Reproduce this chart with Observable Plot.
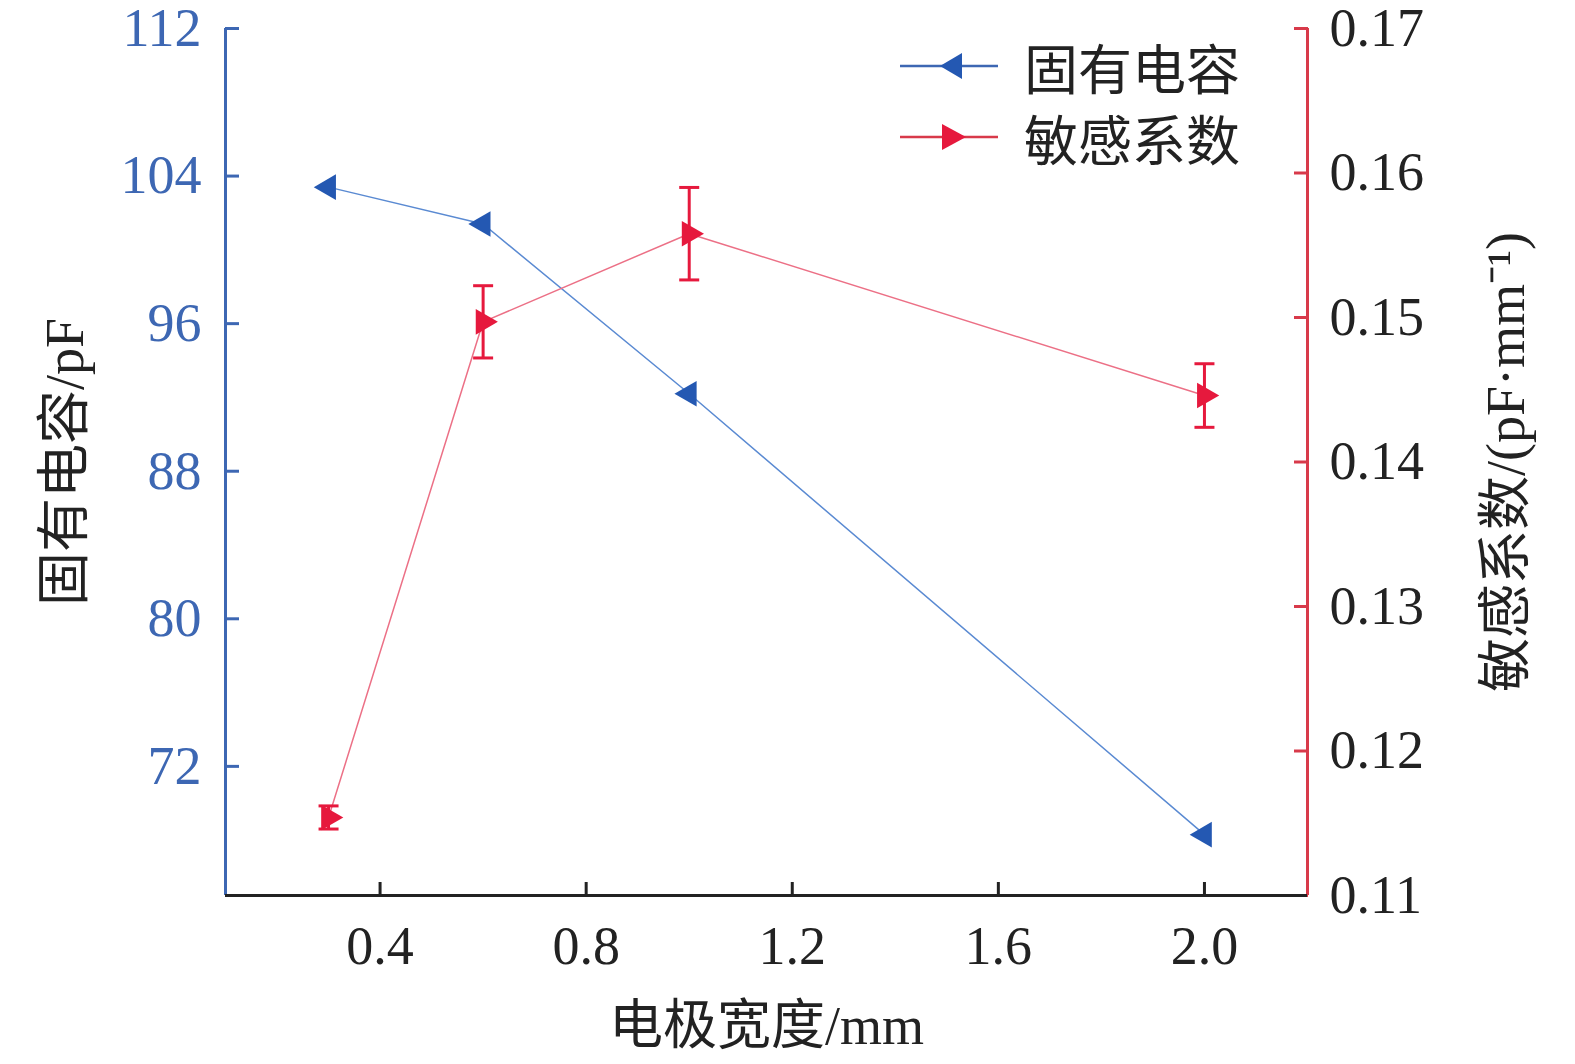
<!DOCTYPE html>
<html><head><meta charset="utf-8">
<script src="https://cdn.jsdelivr.net/npm/d3@7"></script>
<script src="https://cdn.jsdelivr.net/npm/@observablehq/plot@0.6"></script>
<style>
html,body{margin:0;padding:0;background:#fff;overflow:hidden;}
#wrap{position:relative;width:1575px;height:1064px;overflow:hidden;}
#wrap > svg{display:block;max-width:none !important;}
.lg{position:absolute;left:898px;height:71px;display:flex;align-items:center;font-family:"Liberation Serif","Noto Sans CJK SC",serif;font-size:54px;color:#222;}
.lg svg{margin-right:24px;}
</style></head><body><div id="wrap"></div>
<script>
const widths = [0.3, 0.6, 1.0, 2.0];
const capacitance = [103.4, 101.4, 92.2, 68.3];
const sensitivity = [0.1154, 0.1497, 0.1558, 0.1446];
const sensitivityErr = [0.0008, 0.0025, 0.0032, 0.0022];
const xTicks = [0.4, 0.8, 1.2, 1.6, 2.0];
const leftTicks = [72, 80, 88, 96, 104, 112];
const rightTicks = [0.11, 0.12, 0.13, 0.14, 0.15, 0.16, 0.17];
const xDomain = [0.1, 2.2];
const leftDomain = [65, 112];
const rightDomain = [0.11, 0.17];
const seriesNames = ["固有电容", "敏感系数"];
const xLabel = "电极宽度/mm";
const leftLabel = "固有电容/pF";
const rightLabel = "敏感系数/(pF·mm⁻¹)";

const BLUE = "#2458b2", BLUE_AX = "#3d67b3", BLUE_LN = "#5a8ad2";
const RED = "#e6193d", RED_AX = "#d83a4a", RED_LN = "#ec7086";
const INK = "#222";

const r2l = v => leftDomain[0] + (v - rightDomain[0]) / (rightDomain[1] - rightDomain[0]) * (leftDomain[1] - leftDomain[0]);
const l2r = v => rightDomain[0] + (v - leftDomain[0]) / (leftDomain[1] - leftDomain[0]) * (rightDomain[1] - rightDomain[0]);

const capData = widths.map((x, i) => ({x, y: capacitance[i]}));
const sensData = widths.map((x, i) => ({
  x, y: r2l(sensitivity[i]),
  lo: r2l(sensitivity[i] - sensitivityErr[i]),
  hi: r2l(sensitivity[i] + sensitivityErr[i])
}));

const capSymbol = {draw(ctx, size) { const w = Math.sqrt(size / Math.PI); ctx.moveTo(-w, 0); ctx.lineTo(w, 0); }};
const FONT = "'Liberation Serif', 'Noto Sans CJK SC', serif";

const chart = Plot.plot({
  width: 1575, height: 1064,
  marginTop: 28, marginRight: 268, marginBottom: 169, marginLeft: 225,
  style: {fontFamily: FONT, fontSize: "54px", background: "#fff", overflow: "visible", maxWidth: "none"},
  x: {domain: xDomain},
  y: {domain: leftDomain},
  marks: [
    Plot.axisX(xTicks, {anchor: "bottom", tickSize: -13, tickPadding: 43, strokeWidth: 3, tickFormat: d3.format(".1f"), color: INK, fontSize: 54, label: null}),
    Plot.axisY(leftTicks, {anchor: "left", tickSize: -14, tickPadding: 38, strokeWidth: 3, color: BLUE_AX, fontSize: 54, label: null}),
    Plot.axisY(rightTicks.map(r2l), {anchor: "right", tickSize: -14, tickPadding: 36, strokeWidth: 3, stroke: RED_AX, fill: INK, fontSize: 54, tickFormat: d => d3.format(".2f")(l2r(d)), label: null}),
    Plot.ruleX([xDomain[0]], {stroke: BLUE_AX, strokeWidth: 3}),
    Plot.ruleX([xDomain[1]], {stroke: RED_AX, strokeWidth: 3}),
    Plot.ruleY([leftDomain[0]], {stroke: INK, strokeWidth: 3}),
    Plot.line(capData, {x: "x", y: "y", stroke: BLUE_LN, strokeWidth: 1.5}),
    Plot.line(sensData, {x: "x", y: "y", stroke: RED_LN, strokeWidth: 1.5}),
    Plot.ruleX(sensData, {x: "x", y1: "lo", y2: "hi", stroke: RED, strokeWidth: 3}),
    Plot.dot(sensData, {x: "x", y: "lo", symbol: capSymbol, r: 10, fill: "none", stroke: RED, strokeWidth: 3}),
    Plot.dot(sensData, {x: "x", y: "hi", symbol: capSymbol, r: 10, fill: "none", stroke: RED, strokeWidth: 3}),
    Plot.dot(capData, {x: "x", y: "y", symbol: "triangle", rotate: -90, r: 9.5, fill: BLUE, stroke: "none"}),
    Plot.dot(sensData, {x: "x", y: "y", symbol: "triangle", rotate: 90, r: 9.5, fill: RED, stroke: "none"}),
    Plot.text([xLabel], {frameAnchor: "bottom", dy: 131, lineAnchor: "middle", textAnchor: "middle", text: d => d, fontSize: 54, fill: INK}),
    Plot.text([leftLabel], {frameAnchor: "left", dx: -160, rotate: -90, textAnchor: "middle", lineAnchor: "middle", text: d => d, fontSize: 54, fill: INK}),
    Plot.text([rightLabel], {frameAnchor: "right", dx: 199, rotate: -90, textAnchor: "middle", lineAnchor: "middle", text: d => d, fontSize: 54, fill: INK})
  ]
});
const wrap = document.getElementById("wrap");
wrap.appendChild(chart);

// legend overlay
const legendItems = [
  {name: seriesNames[0], line: BLUE_AX, fill: BLUE, dir: "left", cy: 66},
  {name: seriesNames[1], line: RED_AX, fill: RED, dir: "right", cy: 137}
];
for (const it of legendItems) {
  const div = document.createElement("div");
  div.className = "lg";
  div.style.top = (it.cy - 35.5) + "px";
  const pts = it.dir === "left" ? "42,13 64,0 64,26" : "44,0 44,26 68,13";
  div.innerHTML = `<svg width="102" height="26" viewBox="0 0 102 26"><line x1="2" y1="13" x2="100" y2="13" stroke="${it.line}" stroke-width="2.5"/><polygon points="${pts}" fill="${it.fill}"/></svg><span>${it.name}</span>`;
  wrap.appendChild(div);
}
</script></body></html>
